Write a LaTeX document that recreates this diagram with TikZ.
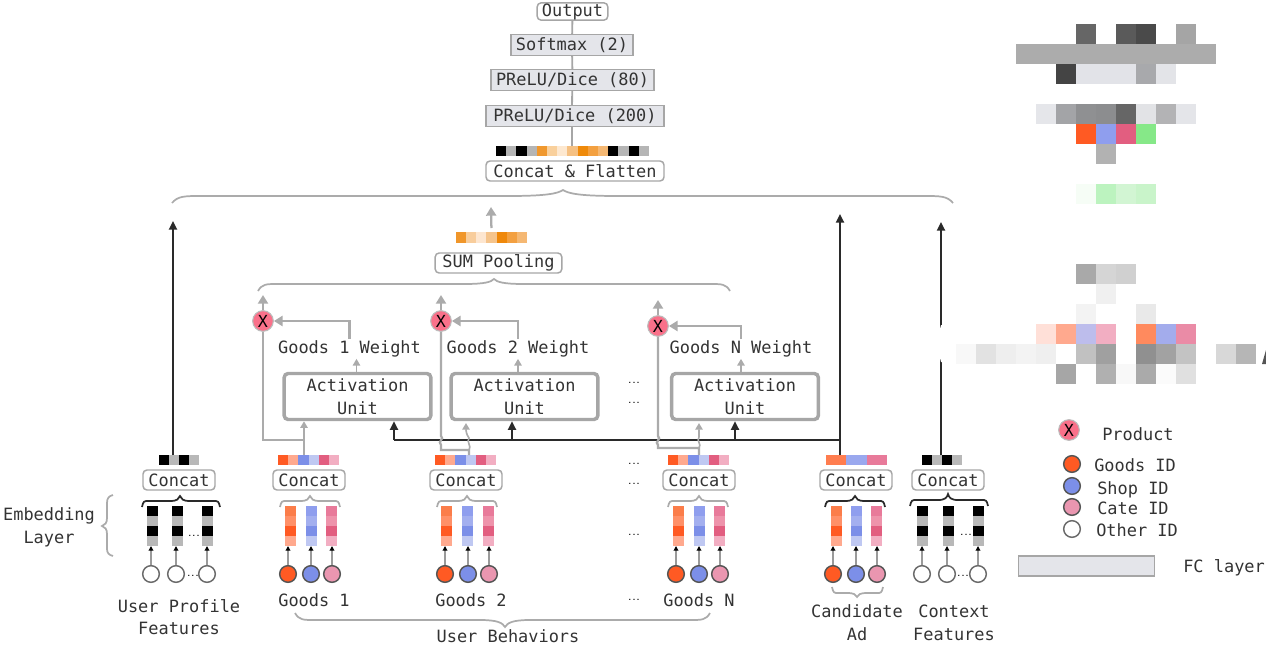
\documentclass[tikz,border=0pt]{standalone}
\usepackage{fontspec}
\setmainfont{DejaVu Sans Mono}
\usetikzlibrary{arrows.meta}

\definecolor{inktext}{HTML}{333333}
\definecolor{linegray}{HTML}{ABABAB}
\definecolor{boxgray}{HTML}{A6A6A6}
\definecolor{fcfill}{HTML}{E4E5EA}
\definecolor{lineblack}{HTML}{2A2A2A}
\definecolor{goodsid}{HTML}{FF5A23}
\definecolor{shopid}{HTML}{7C8FE8}
\definecolor{cateid}{HTML}{EA96B0}
\definecolor{prodfill}{HTML}{F9718A}

% one strip of coloured cells, hex values
\newcommand{\cells}[5]{
	\edef\celllist{#5}
	\foreach \cellc [count=\i from 0] in \celllist {
		\definecolor{cellfill}{HTML}{\cellc}
		\fill[cellfill] ({#1+\i*#3},#2) rectangle ++(#3,#4);
	}
}
\newcommand{\cellrow}[7]{
	\cells{#3}{#4}{#5}{#6}{#7}
	\node[inner sep=0pt, outer sep=0pt, minimum width=#2*#5*0.75pt, minimum height=#6*0.75pt, anchor=north west] (#1) at (#3,#4) {};
}
\newcommand{\cellcol}[3]{
	\edef\celllist{#3}
	\foreach \cellc [count=\i from 0] in \celllist {
		\definecolor{cellfill}{HTML}{\cellc}
		\fill[cellfill] ({#2-5.5},{506+\i*10}) rectangle ++(11,10);
	}
	\node[inner sep=0pt, outer sep=0pt, minimum width=8.25pt, minimum height=30pt, anchor=north] (#1) at (#2,506) {};
}
% xl, xr, xtip, y, end drop, tip rise, end run, tip run
\newcommand{\curly}[9]{
	\draw[#1] (#2,#5+#6) .. controls (#2+0.2*#8,#5) and (#2+0.4*#8,#5) .. (#2+#8,#5) -- (#4-#9,#5) .. controls (#4-0.3*#9,#5) and (#4-0.1*#9,#5-0.4*#7) .. (#4,#5-#7) .. controls (#4+0.1*#9,#5-0.4*#7) and (#4+0.3*#9,#5) .. (#4+#9,#5) -- (#3-#8,#5) .. controls (#3-0.4*#8,#5) and (#3-0.2*#8,#5) .. (#3,#5+#6);
}
\newcommand{\colblack}{000000,B8B8B8,000000,B8B8B8}
\newcommand{\colorange}{FB7D4A,FF9068,FF5A23,FFA98E}
\newcommand{\colblue}{8F9EEE,A3AFEF,7C8FE8,BFC8F2}
\newcommand{\colpink}{E87A9A,EE93AB,E25E80,F2AEC2}
\newcommand{\vecgoods}{FF5A23,FFA98E,7C8FE8,BFC8F2,E25E80,F2AEC2}
\newcommand{\dotfont}{\fontsize{5}{5}\selectfont\bfseries}

\begin{document}
\begin{tikzpicture}[
	x=0.75pt, y=-0.75pt,
	every node/.style={font=\fontsize{12.7}{17}\selectfont, text=inktext, align=center},
	wbox/.style={draw=boxgray, line width=1.1pt, rounded corners=3pt, fill=white, inner sep=0pt, minimum height=15pt},
	fcbox/.style={draw=boxgray, line width=1.1pt, fill=fcfill, inner sep=0pt, minimum height=15.5pt},
	concat/.style={wbox, minimum width=54pt},
	actbox/.style={draw=boxgray, line width=2.6pt, rounded corners=3pt, fill=white, inner sep=0pt, minimum width=110pt, minimum height=34.5pt},
	prod/.style={circle, draw=linegray!80, line width=0.8pt, fill=prodfill, inner sep=0pt, minimum size=15.5pt, text=black, font=\fontsize{12.5}{13}\selectfont},
	idgoods/.style={circle, draw=lineblack!80, line width=1.1pt, fill=goodsid, inner sep=0pt, minimum size=12.5pt},
	idshop/.style={idgoods, fill=shopid},
	idcate/.style={idgoods, fill=cateid},
	idother/.style={idgoods, draw=lineblack!70, fill=white},
	stem/.style={draw=boxgray, line width=1.4pt},
	grayline/.style={draw=linegray, line width=1.7pt},
	grayarrow/.style={grayline, -{Triangle[length=6.5pt,width=7.5pt]}},
	graysmall/.style={draw=linegray, line width=1.1pt, -{Triangle[length=5pt,width=5.5pt]}},
	blackline/.style={draw=lineblack, line width=1.6pt},
	blackarrow/.style={blackline, -{Triangle[length=6.5pt,width=6pt]}},
	idarrow/.style={draw=linegray!90!black, line width=1pt, -{Triangle[length=3.5pt,width=3.5pt,color=black]}},
	bracegray/.style={draw=linegray, line width=1.3pt},
	braceblack/.style={draw=lineblack, line width=1.3pt},
	dotrow/.style={font=\dotfont, text=black, inner sep=0pt}
	]
	\useasboundingbox (0,0) rectangle (1266,646);

	% top of the network
	\node [wbox, minimum width=53pt, minimum height=13pt] (output) at (572.5,11.5) {Output};
	\node [fcbox, minimum width=91.5pt] (softmax) at (572,45) {Softmax (2)};
	\node [fcbox, minimum width=122pt] (preluB) at (572.5,80) {PReLU/Dice (80)};
	\node [fcbox, minimum width=133.5pt] (preluA) at (575,116) {PReLU/Dice (200)};
	\cellrow{flatvec}{15}{496}{146}{10.2}{10}{000000,B5B5B5,000000,B5B5B5,F0982E,F9D09C,FDE8D0,F5C082,EF8A0A,F3A040,F5B873,000000,B5B5B5,000000,B5B5B5}
	\node [wbox, minimum width=133.5pt] (flat) at (575,171) {Concat \& Flatten};
	\draw [stem] (output) -- (softmax);
	\draw [stem] (softmax) -- (preluB);
	\draw [stem] (preluB) -- (softmax |- preluA.north);
	\draw [stem] (softmax |- preluA.south) -- (softmax |- flatvec.north);
	\curly{bracegray}{172}{953}{563}{196}{7}{6}{30}{55}

	% interest pooling
	\cellrow{sumvec}{7}{456}{232}{10.14}{11}{F0962A,F8CD9C,FDE6D0,F5C48C,EF880A,F3A040,F5B873}
	\coordinate (sumtop) at (491,207);
	\draw [grayarrow, shorten <=3pt] (sumvec.north) -- (sumtop);
	\node [wbox, minimum width=95pt] (sum) at (498.5,263) {SUM Pooling};
	\curly{bracegray}{258}{730}{494}{284}{7}{5}{20}{30}

	% one activation unit per behaviour
	\foreach \n/\x/\w/\px/\py/\s in {1/357.5/349.5/263/321/5.25pt, 2/524.5/518/441/321/0pt, N/745/741/658/326/0pt} {
		\node [actbox] (act\n) at (\x,396.5) {Activation\\Unit};
		\node [inner sep=1pt] (wt\n) at (\w,349) {Goods \n\ Weight};
		\node [prod] (x\n) at (\px,\py) {X};
		\coordinate (up\n) at (\px,{\py-26});
		\draw [graysmall] ([xshift=\s]wt\n.south |- act\n.north) -- ([xshift=\s]wt\n.south);
		\draw [grayarrow] (wt\n.north) |- (x\n.east);
		\draw [grayarrow] (x\n.north) -- (up\n);
	}

	% embedding columns and id circles
	\foreach \nm/\x/\cx/\cellset/\st in {
		ua/152/151/\colblack/idother, ub/177/176/\colblack/idother, uc/207/207/\colblack/idother,
		oa/290/288/\colorange/idgoods, ob/311/311/\colblue/idshop, oc/331/332/\colpink/idcate,
		ta/446/445/\colorange/idgoods, tb/467/468/\colblue/idshop, tc/488/489/\colpink/idcate,
		na/678/676/\colorange/idgoods, nb/699/699/\colblue/idshop, nc/719/720/\colpink/idcate,
		ca/836/833/\colorange/idgoods, cb/856/856/\colblue/idshop, cc/876/877/\colpink/idcate,
		xa/922/922/\colblack/idother, xb/948/947/\colblack/idother, xc/978/978/\colblack/idother} {
		\cellcol{col\nm}{\x}{\cellset}
		\node [\st] (id\nm) at (\cx,574) {};
		\draw [idarrow] (id\nm.north) -- (id\nm.north |- col\nm.south);
	}

	% concat boxes with their output strips
	\foreach \nm/\x in {user/179, goneb/309, gtwob/466, gnb/699, cand/856, ctx/948} {
		\node [concat] (\nm) at (\x,480) {Concat};
	}
	\cellrow{uservec}{4}{159}{455}{10}{10}{000000,B8B8B8,000000,B8B8B8}
	\cellrow{onevec}{6}{278}{455}{10.2}{10}{\vecgoods}
	\cellrow{twovec}{6}{435}{455}{10.2}{10}{\vecgoods}
	\cellrow{nvec}{6}{668}{455}{10.2}{10}{\vecgoods}
	\cellrow{candvec}{6}{826}{455}{10.2}{10}{FF7D4F,FF7D4F,9AA8EE,9AA8EE,E87A9A,E87A9A}
	\cellrow{ctxvec}{4}{922}{455}{10}{10}{000000,B8B8B8,000000,B8B8B8}

	\curly{braceblack}{142}{220}{180}{501}{6}{5}{6}{10}
	\curly{bracegray}{280}{340}{310}{501}{6}{5}{6}{10}
	\curly{bracegray}{437}{497}{467}{501}{6}{5}{6}{10}
	\curly{bracegray}{668}{728}{699}{501}{6}{5}{6}{10}
	\curly{braceblack}{825}{885}{855}{501}{6}{5}{6}{10}
	\curly{braceblack}{910}{988}{948}{500}{6}{6}{6}{10}
	\curly{bracegray}{832}{883}{857}{593}{-6}{-4}{6}{10}
	\curly{bracegray}{295}{710}{505}{620}{-7}{-7}{20}{25}
	\draw [bracegray] (113,495) .. controls (109,496) and (107,498) .. (107,503) -- (107,518) .. controls (107,523) and (105,525) .. (102,526) .. controls (105,527) and (107,529) .. (107,534) -- (107,549) .. controls (107,553) and (109,555) .. (113,556);

	% long arrows into the top brace
	\coordinate (usertop) at (173,221);
	\coordinate (candtop) at (840,214);
	\coordinate (ctxtop) at (941,222);
	\draw [blackarrow] (usertop |- uservec.north) -- (usertop);
	\draw [blackarrow] (candtop |- candvec.north) -- (candtop);
	\draw [blackarrow] (ctxtop |- ctxvec.north) -- (ctxtop);

	% candidate ad feeding the activation units
	\coordinate (adjoin) at (840,440);
	\coordinate (adend) at (394,440);
	\draw [blackline] (adjoin) -- (adend);
	\foreach \n/\x in {1/394, 2/512, N/735} {
		\coordinate (jn\n) at (\x,440);
		\draw [blackarrow] (jn\n) -- (jn\n |- act\n.south);
	}

	% behaviour strips feeding products and units, hopping over the black line
	\coordinate (split1) at (304,440);
	\draw [grayarrow, -{Triangle[length=5pt,width=5.5pt]}] (split1 |- onevec.north) -- (split1 |- act1.south);
	\draw [grayline] (split1) -| (x1.south);
	\coordinate (split2) at (469,450);
	\draw [grayline] (x2.south) -- (441,436) .. controls (445,439) and (437,441) .. (441,445) -- (441,450) -- (split2) -- (split2 |- twovec.north);
	\draw [grayline, line width=1.2pt, -{Triangle[length=5pt,width=5.5pt]}] (split2) .. controls (472,446) and (466,442) .. (469,438) .. controls (466,434) and (466,430) .. (466,423);
	\coordinate (splitN) at (699,448);
	\draw [grayline] (xN.south) -- (658,436) .. controls (662,439) and (654,442) .. (658,445) -- (658,448) -- (splitN) -- (splitN |- nvec.north);
	\draw [grayline, line width=1.2pt, -{Triangle[length=5pt,width=5.5pt]}] (splitN) .. controls (702,444) and (696,441) .. (699,437) -- (699,423);

	% dots between the columns
	\foreach \i/\x/\y in {a/634/383, b/634/403, c/634/464, d/634/484, e/634/535, f/634/600, g/194/536, h/193/576, j/966/535, k/963/576} {
		\node [dotrow] (dots\i) at (\x,\y) {...};
	}

	% captions
	\node (emb) at (49,527.5) {Embedding\\Layer};
	\node (userlab) at (179,617) {User Profile\\Features};
	\node (goneb-lab) at (314,600) {Goods 1};
	\node (gtwob-lab) at (471,600) {Goods 2};
	\node (gnb-lab) at (699,600) {Goods N};
	\node (behav) at (508,636) {User Behaviors};
	\node (candlab) at (857,622.5) {Candidate\\Ad};
	\node (ctxlab) at (954,622.5) {Context\\Features};

	% legend
	\node [prod] (legprod) at (1069,430) {X};
	\node [anchor=west, inner sep=0pt] (legprodt) at (1102,434) {Product};
	\node [idgoods] (leggoods) at (1072,464) {};
	\node [anchor=west, inner sep=0pt] (leggoodst) at (1094,465) {Goods ID};
	\node [idshop] (legshop) at (1072,486) {};
	\node [anchor=west, inner sep=0pt] (legshopt) at (1097,490) {Shop ID};
	\node [idcate] (legcate) at (1072,507) {};
	\node [anchor=west, inner sep=0pt] (legcatet) at (1097,508) {Cate ID};
	\node [idother] (legother) at (1072,529) {};
	\node [anchor=west, inner sep=0pt] (legothert) at (1096,530) {Other ID};
	\node [fcbox, minimum width=102pt, minimum height=15pt] (legfc) at (1086.5,566) {};
	\node [anchor=west, inner sep=0pt] (legfct) at (1183,568) {FC layer};

	% pixel blocks in the upper right
	\cells{1076}{24}{20}{20}{666666,FFFFFF,5A5A5A,4A4A4A,FFFFFF,A5A5A5}
	\cells{1016}{44}{20}{20}{ACACAC,ACACAC,ACACAC,ACACAC,ACACAC,ACACAC,ACACAC,ACACAC,ACACAC,ACACAC}
	\cells{1056}{64}{20}{20}{444444,E2E3E8,E2E3E8,E2E3E8,A8A9AC,E3E4E8}
	\cells{1036}{104}{20}{20}{E5E6EA,A3A4A7,8F9092,8C8D8F,666666,E2E3E6,B3B3B5,E4E5E9}
	\cells{1076}{124}{20}{20}{FF5A23,8F9EEE,E25E80,86E888}
	\cells{1096}{144}{20}{20}{B2B2B2}
	\cells{1076}{184}{20}{20}{F6FDF6,BCF3BF,D2F5D3,C9F4CA}
	\cells{1076}{264}{20}{20}{A9A9A9,D5D5D5,D0D0D0}
	\cells{1096}{284}{20}{20}{F0F0F0}
	\cells{1076}{304}{20}{20}{F3F3F3,FFFFFF,FFFFFF,E9E9E9}
	\cells{1036}{324}{20}{20}{FFE0D8,FFA98E,BDBDEC,F2AEC2,FFFFFF,FF8A5E,A3ACEC,EA8BA6}
	\cells{956}{344}{20}{20}{F8F8F8,E2E2E2,EEEEEE,F3F3F3,EFEFEF,FFFFFF,C1C1C1,A0A0A0,FFFFFF,909090,A2A2A2,C3C3C3,FFFFFF,D8D8D8,B6B6B6}
	\cells{1056}{364}{20}{20}{A6A6A6,FFFFFF,B0B0B0,F8F8F8,AAAAAA,FBFBFB,E0E0E0}
	\fill [lineblack!80] (1262,364) -- (1266,350) -- (1266,364) -- cycle;
	\fill [white] (941,325) .. controls (938,335) and (938,352) .. (941,362) -- (955,362) -- (955,325) -- cycle;
\end{tikzpicture}
\end{document}
